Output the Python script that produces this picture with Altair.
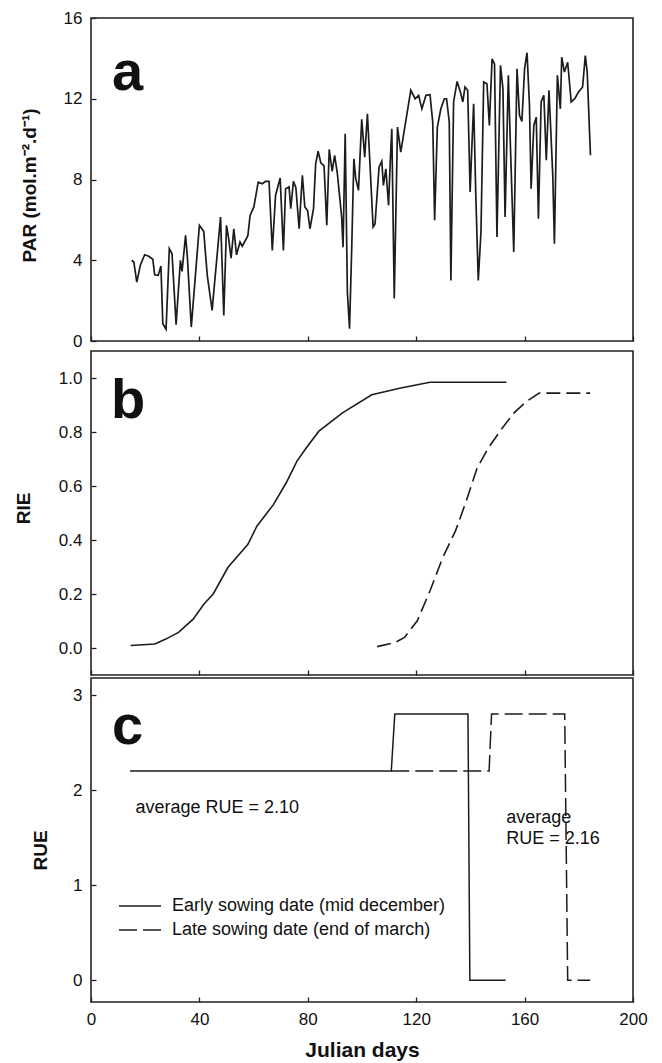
import altair as alt
import pandas as pd

# ---------------- data ----------------
par_day = [15.0, 15.8, 16.9, 18.2, 19.8, 21.3, 22.8, 23.5, 24.8, 25.8, 26.5, 27.7, 28.9, 29.9,
           31.4, 33.0, 33.6, 34.9, 35.6, 37.0, 40.0, 41.6, 42.9, 44.7, 47.8, 49.0, 50.0, 50.8,
           51.7, 52.7, 53.7, 55.0, 55.8, 57.0, 57.9, 58.7, 60.1, 61.7, 63.2, 64.4, 65.7, 66.9,
           68.1, 69.8, 71.0, 71.8, 73.1, 73.7, 74.7, 75.6, 76.8, 78.0, 78.9, 79.9, 80.8, 82.1,
           82.9, 83.8, 84.8, 86.0, 87.0, 87.9, 89.0, 89.9, 90.9, 92.5, 93.0, 93.8, 94.6, 95.4,
           96.2, 97.0, 97.7, 98.7, 99.9, 101.0, 102.0, 102.9, 104.1, 104.8, 106.3, 107.3, 107.9,
           108.8, 109.8, 110.4, 111.0, 111.9, 113.1, 114.3, 116.2, 118.0, 119.6, 120.9, 122.1,
           123.6, 125.1, 126.1, 126.8, 127.8, 129.1, 130.4, 131.2, 132.2, 132.8, 133.8, 135.1,
           136.3, 137.2, 138.0, 139.0, 139.9, 140.5, 141.2, 142.0, 142.9, 143.9, 144.9, 146.1,
           147.0, 148.0, 148.9, 149.8, 151.1, 152.0, 152.8, 154.0, 154.8, 156.0, 157.2, 158.1,
           159.0, 160.0, 160.9, 161.8, 162.4, 163.4, 164.3, 165.1, 166.1, 167.1, 168.0, 169.0,
           170.4, 171.0, 172.1, 173.2, 173.7, 174.7, 175.9, 177.2, 178.5, 179.9, 181.4, 182.4,
           183.1, 184.3]
par_val = [4.0, 3.91, 2.92, 3.75, 4.27, 4.2, 4.05, 3.28, 3.25, 3.71, 0.86, 0.58, 4.57, 4.32,
           0.81, 4.0, 3.45, 5.23, 4.08, 0.69, 5.73, 5.43, 3.25, 1.52, 6.14, 1.27, 5.73, 5.07,
           4.1, 5.56, 4.27, 4.9, 4.7, 4.99, 5.23, 6.22, 6.64, 7.87, 7.79, 7.91, 7.91, 4.49,
           7.21, 8.07, 4.49, 7.54, 7.63, 6.55, 7.91, 7.6, 5.56, 8.21, 6.64, 6.47, 5.56, 6.55,
           8.78, 9.4, 8.83, 8.67, 5.73, 9.49, 8.4, 9.2, 8.3, 6.14, 4.65, 10.27, 2.43, 0.61,
           4.57, 9.03, 8.04, 7.46, 10.98, 9.11, 11.26, 8.87, 5.65, 5.8, 8.62, 8.9, 7.71,
           8.53, 6.72, 8.8, 10.51, 2.1, 10.6, 9.36, 10.93, 12.42, 12.0, 12.17, 11.5,
           12.17, 12.2, 10.85, 5.98, 10.6, 11.5, 12.0, 12.0, 10.85, 3.0, 11.84, 12.86,
           12.33, 11.84, 12.58, 12.42, 7.38, 9.5, 11.75, 7.2, 3.0, 5.4, 12.83, 12.74,
           10.68, 13.98, 13.73, 5.15, 13.65, 12.5, 6.14, 13.16, 9.52, 4.41, 13.49, 11.18,
           10.88, 13.49, 14.28, 11.67, 7.54, 10.68, 11.09, 6.06, 11.84, 12.17, 8.95, 12.42,
           8.2, 4.82, 13.16, 11.5, 14.06, 13.32, 13.81, 11.84, 12.0, 12.33, 12.58, 14.14,
           13.32, 9.2]

rie_early_day = [14.6, 23.6, 27.6, 32.3, 37.7, 41.7, 45.1, 50.5, 57.9, 61.2, 67.3, 72.0, 76.0,
                 79.4, 84.1, 92.8, 103.6, 114.3, 125.1, 153.3]
rie_early_val = [0.009, 0.015, 0.033, 0.058, 0.107, 0.163, 0.200, 0.298, 0.384, 0.451, 0.531,
                 0.611, 0.692, 0.741, 0.803, 0.871, 0.938, 0.963, 0.984, 0.984]
rie_late_day = [105.6, 112.3, 115.7, 120.4, 125.1, 129.8, 134.5, 138.5, 142.5, 146.6, 151.3,
                156.0, 160.7, 165.4, 184.2]
rie_late_val = [0.005, 0.021, 0.039, 0.101, 0.212, 0.335, 0.434, 0.545, 0.667, 0.741, 0.808,
                0.870, 0.913, 0.944, 0.944]

rue_early_day = [14.4, 110.8, 112.1, 139.1, 139.8, 153.0]
rue_early_val = [2.2, 2.2, 2.8, 2.8, 0.0, 0.0]
rue_late_day = [110.8, 146.9, 147.8, 174.8, 175.9, 184.2]
rue_late_val = [2.2, 2.2, 2.8, 2.8, 0.0, 0.0]

series_names = ["Early sowing date (mid december)", "Late sowing date (end of march)"]
panel_letters = ["a", "b", "c"]
x_ticks = [0, 40, 80, 120, 160, 200]

# ---------------- styling ----------------
FONT = "Liberation Sans"
INK = "#1c1c1c"
W = 542
H = 324
SOLID = [1, 0]
DASH_B = [14, 6]
DASH_C = [18, 6]

x_scale = alt.Scale(domain=[0, 200], nice=False, zero=False)


def x_axis_inner():
    return alt.Axis(values=x_ticks, labels=False, title=None, ticks=True, tickSize=5,
                    offset=-5, domain=False, grid=False)


def y_axis(values, title, tx, ty, fmt):
    return alt.Axis(values=values, title=title, tickSize=5, offset=-5, domain=False, grid=False,
                    labelPadding=9, titleX=tx, titleY=ty, titleAngle=270, titleAlign="center",
                    titleBaseline="middle", format=fmt)


def letter(ch, xp, yp):
    return alt.Chart(pd.DataFrame({"letter": [ch]})).mark_text(
        font=FONT, fontSize=56, fontWeight="bold", align="left", baseline="alphabetic",
        color="#111"
    ).encode(text="letter:N", x=alt.value(xp), y=alt.value(yp))


# ---------------- panel a ----------------
par_df = pd.DataFrame({"day": par_day, "par": par_val})
panel_a = alt.layer(
    alt.Chart(par_df).mark_line(color=INK, strokeWidth=1.7).encode(
        x=alt.X("day:Q", scale=x_scale, axis=x_axis_inner()),
        y=alt.Y("par:Q", scale=alt.Scale(domain=[0, 16], nice=False, zero=False),
                axis=y_axis([0, 4, 8, 12, 16], "PAR (mol.m⁻².d⁻¹)", -67, 167, "d")),
    ),
    letter(panel_letters[0], 21, 72),
).properties(width=W, height=H - 1)

# ---------------- panel b ----------------
rie_e = pd.DataFrame({"day": rie_early_day, "rie": rie_early_val})
rie_l = pd.DataFrame({"day": rie_late_day, "rie": rie_late_val})
rie_y = alt.Y("rie:Q", scale=alt.Scale(domain=[-0.1, 1.1], nice=False, zero=False),
              axis=y_axis([0, 0.2, 0.4, 0.6, 0.8, 1.0], "RIE", -73, 157, ".1f"))
panel_b = alt.layer(
    alt.Chart(rie_e).mark_line(color=INK, strokeWidth=1.6).encode(
        x=alt.X("day:Q", scale=x_scale, axis=x_axis_inner()), y=rie_y),
    alt.Chart(rie_l).mark_line(color=INK, strokeWidth=1.6, strokeDash=DASH_B).encode(
        x=alt.X("day:Q", scale=x_scale), y="rie:Q"),
    letter(panel_letters[1], 20, 67),
).properties(width=W, height=H)

# ---------------- panel c ----------------
rue_e = pd.DataFrame({"day": rue_early_day, "rue": rue_early_val})
rue_l = pd.DataFrame({"day": rue_late_day, "rue": rue_late_val})
rue_y = alt.Y("rue:Q", scale=alt.Scale(domain=[-0.23, 3.18], nice=False, zero=False),
              axis=y_axis([0, 1, 2, 3], "RUE", -56, 172, "d"))
x_bottom = alt.X("day:Q", scale=x_scale, title="Julian days",
                 axis=alt.Axis(values=x_ticks, tickSize=5, offset=-5, domain=False, grid=False,
                               labelPadding=9, titlePadding=12, titleFontSize=21,
                               labelFlush=False, format="d"))

one = pd.DataFrame({"k": [0]})


def note(txt, d, v):
    return alt.Chart(one).mark_text(font=FONT, fontSize=18, align="left", baseline="middle",
                                    color="#111").encode(
        x=alt.datum(d), y=alt.datum(v), text=alt.value(txt))


def legend_row(name, dash, yp):
    rule = alt.Chart(one).mark_rule(color=INK, strokeWidth=1.3, strokeDash=dash).encode(
        x=alt.value(28), x2=alt.value(70), y=alt.value(yp))
    txt = alt.Chart(one).mark_text(font=FONT, fontSize=18, align="left", baseline="middle",
                                   color="#111").encode(
        x=alt.value(81), y=alt.value(yp), text=alt.value(name))
    return rule + txt


panel_c = alt.layer(
    alt.Chart(rue_e).mark_line(color=INK, strokeWidth=1.5).encode(x=x_bottom, y=rue_y),
    alt.Chart(rue_l).mark_line(color=INK, strokeWidth=1.5, strokeDash=DASH_C).encode(
        x="day:Q", y="rue:Q"),
    note("average RUE = 2.10", 16.4, 1.81),
    note("average", 153.2, 1.71),
    note("RUE = 2.16", 153.2, 1.49),
    legend_row(series_names[0], SOLID, 228),
    legend_row(series_names[1], DASH_C, 252),
    letter(panel_letters[2], 21, 66),
).properties(width=W, height=H)

chart = alt.vconcat(panel_a, panel_b, panel_c, spacing=0).properties(
    padding={"left": 5, "top": 0, "right": 5, "bottom": 2}
).configure_view(stroke="#222", strokeWidth=1.6).configure_axis(
    labelFont=FONT, labelFontSize=17, labelColor="#111", tickColor="#222", tickWidth=1.3,
    titleFont=FONT, titleFontSize=19, titleFontWeight="bold", titleColor="#111"
).configure_concat(spacing=0)

chart.save("out.html", embed_options={"renderer": "svg", "actions": False})
